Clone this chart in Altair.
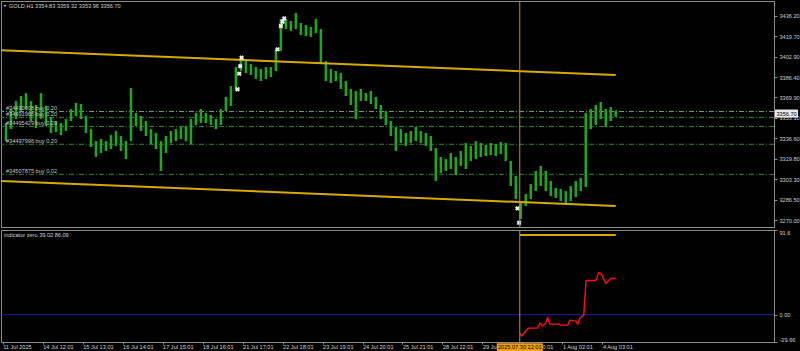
import altair as alt
import pandas as pd

# ---------------- data ----------------
# price bars: one entry per 3 H1 bars (high, low)
highs = [3349.0, 3360.4, 3366.9, 3371.0, 3373.4, 3366.9, 3363.7, 3373.4, 3362.9, 3353.9,
         3350.6, 3349.0, 3352.3, 3360.4, 3365.3, 3364.5, 3354.7, 3344.1, 3334.3, 3336.0,
         3334.3, 3339.2, 3342.5, 3338.4, 3334.3, 3377.5, 3357.2, 3354.7, 3350.6, 3344.1,
         3340.9, 3334.3, 3338.4, 3342.5, 3344.1, 3345.8, 3346.6, 3352.3, 3357.2, 3360.4,
         3357.2, 3355.5, 3352.3, 3360.4, 3370.2, 3379.2, 3394.6, 3401.2, 3399.5, 3397.1,
         3394.6, 3393.0, 3394.6, 3394.6, 3409.3, 3433.7, 3433.7, 3432.1, 3438.6, 3430.5,
         3428.8, 3427.2, 3433.7, 3425.6, 3399.5, 3393.0, 3391.4, 3389.7, 3383.2, 3376.7,
         3375.1, 3376.7, 3373.4, 3375.1, 3370.2, 3363.7, 3358.8, 3350.6, 3345.8, 3344.1,
         3340.9, 3342.5, 3345.8, 3342.5, 3340.9, 3338.4, 3328.6, 3321.3, 3319.7, 3324.6,
         3321.3, 3326.2, 3332.7, 3330.3, 3334.3, 3332.7, 3331.1, 3332.7, 3331.9, 3333.5,
         3332.7, 3318.1, 3305.8, 3285.5, 3291.2, 3299.3, 3309.9, 3314.0, 3309.9, 3301.8,
         3296.1, 3295.2, 3293.6, 3297.7, 3301.8, 3304.2, 3357.2, 3360.4, 3363.7, 3366.1,
         3360.4, 3362.0, 3359.3]
lows = [3334.3, 3344.1, 3352.3, 3358.8, 3360.4, 3350.6, 3344.9, 3352.3, 3346.6, 3340.9,
        3341.7, 3339.2, 3342.5, 3350.6, 3354.7, 3352.3, 3340.9, 3329.5, 3321.3, 3324.6,
        3326.2, 3327.8, 3330.3, 3326.2, 3319.7, 3334.3, 3346.6, 3342.5, 3338.4, 3331.9,
        3327.8, 3309.9, 3324.6, 3332.7, 3334.3, 3336.0, 3334.3, 3331.9, 3347.4, 3349.0,
        3349.0, 3347.4, 3344.1, 3347.4, 3358.8, 3362.9, 3375.1, 3391.4, 3389.7, 3388.1,
        3384.9, 3383.2, 3384.9, 3386.5, 3391.4, 3407.7, 3425.6, 3424.0, 3425.6, 3420.7,
        3419.9, 3419.1, 3422.3, 3397.9, 3383.2, 3381.6, 3383.2, 3376.7, 3371.0, 3363.7,
        3352.3, 3366.9, 3366.9, 3364.5, 3360.4, 3352.3, 3347.4, 3338.4, 3326.2, 3332.7,
        3330.3, 3332.7, 3334.3, 3332.7, 3330.3, 3326.2, 3301.8, 3308.3, 3309.9, 3311.5,
        3306.6, 3314.0, 3311.5, 3318.1, 3319.7, 3321.3, 3322.1, 3322.9, 3322.1, 3323.8,
        3318.1, 3297.7, 3287.1, 3270.8, 3281.4, 3287.1, 3293.6, 3297.7, 3293.6, 3289.5,
        3287.9, 3285.5, 3283.8, 3285.5, 3288.7, 3293.6, 3296.9, 3344.1, 3347.4, 3352.3,
        3345.8, 3350.6, 3354.0]
bar_idx = [3 + 3 * k for k in range(len(highs))]

# trade markers (bar, price)
mark_bars = [142.0, 143.0, 143.6, 144.4, 166.0, 168.0, 169.0, 170.0, 310.0, 311.0]
mark_prices = [3376.5, 3389.2, 3395.4, 3402.2, 3409.0, 3428.0, 3431.5, 3434.3, 3279.5, 3267.8]

# channel lines
chan_line = ["up", "up", "low", "low"]
chan_bar = [0, 369, 0, 369]
chan_price = [3408.3, 3388.1, 3301.8, 3281.4]

# order lines
order_labels = ["#34490008 buy 0.20", "#34491965 buy 0.20", "#34495429 buy 0.20",
                "#34497996 buy 0.20", "#34507875 buy 0.02"]
order_prices = [3358.4, 3353.6, 3346.2, 3331.7, 3307.2]
order_colors = ["#7a9c7a", "#2a8f2a", "#2a8f2a", "#2a8f2a", "#2a8f2a"]

bid_price = 3356.70
header = "GOLD,H1  3354.83 3359.32 3353.96 3356.70"
price_ticks = [3436.20, 3419.70, 3402.90, 3386.40, 3369.90, 3353.10, 3336.60,
               3319.80, 3303.30, 3286.50, 3270.00]

# indicator
ind_bars = [311.4, 312.6, 315, 316.8, 322.2, 323.4, 325.2, 327, 328.2, 329.4, 334.8, 336,
            340.2, 341.4, 345, 346.2, 347.4, 349.8, 351.2, 357, 358.8, 360.6, 363, 366, 369]
ind_vals = [-20.0, -23.2, -17.8, -14.6, -14.6, -9.2, -12.4, -9.2, -2.8, -10.3, -10.3, -11.4,
            -11.4, -6.0, -7.1, -10.3, -3.9, -0.6, 36.9, 36.9, 45.5, 43.3, 33.7, 39.1, 39.02]
ind_level = 86.09
ind_label = "indicator zero 39.02 86.09"
ind_ticks = [91.6, 0.0, -29.66]
ind_tick_labels = ["91.6", "0.00", "-29.66"]

time_ticks = [1, 25, 49, 73, 97, 121, 145, 169, 193, 217, 241, 265, 289, 313, 337, 361]
time_labels = ["11 Jul 2025", "14 Jul 12:01", "15 Jul 13:01", "16 Jul 14:01", "17 Jul 15:01",
               "18 Jul 16:01", "21 Jul 17:01", "22 Jul 18:01", "23 Jul 19:01", "24 Jul 20:01",
               "25 Jul 21:01", "28 Jul 22:01", "29 Jul 23:01", "31 Jul 00:01", "1 Aug 02:01",
               "4 Aug 03:01"]
cursor_bar = 311.4
cursor_label = "2025.07.30 22:01"

# ---------------- layout ----------------
W = 773
TOP_H = 226
BOT_H = 112
FONT = "Liberation Sans"
FS = 5.6
TXT = "#d0d0d0"
GRID = "#8c8c8c"

xs = alt.Scale(domain=[0, 464], nice=False, zero=False)
ys = alt.Scale(domain=[3264.3, 3448.4], nice=False, zero=False)
ys2 = alt.Scale(domain=[-29.66, 91.6], nice=False, zero=False)

top_axis = alt.Axis(orient="right", values=price_ticks, format=".2f", title=None, grid=False,
                    labelFontSize=FS, labelFont=FONT, labelColor=TXT, tickSize=3,
                    tickColor=GRID, domainColor=GRID, labelPadding=2)
ind_expr = "[" + ",".join("'%s'" % s for s in ind_tick_labels) + "][indexof([" + \
    ",".join(str(v) for v in ind_ticks) + "], datum.value)]"
bot_axis = alt.Axis(orient="right", values=ind_ticks, labelExpr=ind_expr, title=None, grid=False,
                    labelFontSize=FS, labelFont=FONT, labelColor=TXT, tickSize=3,
                    tickColor=GRID, domainColor=GRID, labelPadding=2, labelFlush=True)
time_expr = "[" + ",".join("'%s'" % s for s in time_labels) + "][indexof([" + \
    ",".join(str(v) for v in time_ticks) + "], datum.value)]"
x_axis = alt.Axis(values=time_ticks, labelExpr=time_expr, title=None, grid=False,
                  labelFontSize=FS, labelFont=FONT, labelColor=TXT, labelAlign="left",
                  labelPadding=0, tickSize=2, tickColor=GRID, domainColor=GRID,
                  labelOverlap=False, labelFlush=False, labelBound=False)


def XT(f):
    return alt.X(f, scale=xs, axis=None)


def YT(f):
    return alt.Y(f, scale=ys, axis=top_axis)


def XB(f):
    return alt.X(f, scale=xs, axis=x_axis)


def YB(f):
    return alt.Y(f, scale=ys2, axis=bot_axis)


bars_df = pd.DataFrame({"bar": bar_idx, "high": highs, "low": lows})
orders_df = pd.DataFrame({"label": order_labels, "price": order_prices, "col": order_colors})
chan_df = pd.DataFrame({"line": chan_line, "bar": chan_bar, "price": chan_price})
marks_df = pd.DataFrame({"bar": mark_bars, "price": mark_prices})
cursor_df = pd.DataFrame({"bar": [cursor_bar]})
bid_df = pd.DataFrame({"price": [bid_price], "p1": [bid_price + 3.3], "p2": [bid_price - 3.3],
                       "t": ["%.2f" % bid_price]})
head_df = pd.DataFrame({"t": [header]})

order_lines = alt.Chart(orders_df).mark_rule(strokeWidth=1, strokeDash=[5, 2, 1, 2],
                                             clip=True).encode(
    y=YT("price:Q"), color=alt.Color("col:N", scale=None))
order_text = alt.Chart(orders_df).mark_text(align="left", baseline="middle", dy=-3.5,
                                            fontSize=FS, font=FONT, color="#c4c4c4").encode(
    x=alt.value(5), y=YT("price:Q"), text="label:N")
price_bars = alt.Chart(bars_df).mark_rule(color="#1ea81e", strokeWidth=2.5).encode(
    x=XT("bar:Q"), y=YT("high:Q"), y2="low:Q")
channel = alt.Chart(chan_df).mark_line(color="#d6ab00", strokeWidth=2, strokeJoin="round",
                                       clip=True).encode(
    x=XT("bar:Q"), y=YT("price:Q"), detail="line:N")
markers = alt.Chart(marks_df).mark_point(shape="cross", angle=45, filled=True, size=24,
                                         color="#eeeeee", opacity=1).encode(
    x=XT("bar:Q"), y=YT("price:Q"))
cursor_top = alt.Chart(cursor_df).mark_rule(color="#c08a40", strokeWidth=1, clip=True).encode(
    x=XT("bar:Q"))
bid_box = alt.Chart(bid_df).mark_rect(color="#e8e8e8").encode(
    x=alt.value(774), x2=alt.value(797), y=YT("p1:Q"), y2="p2:Q")
bid_text = alt.Chart(bid_df).mark_text(align="left", baseline="middle", fontSize=FS, font=FONT,
                                       color="#000000").encode(
    x=alt.value(775.5), y=YT("price:Q"), text="t:N")
head_icon = alt.Chart(head_df).mark_point(shape="triangle-down", filled=True, size=6,
                                          color="#e0e0e0", opacity=1).encode(
    x=alt.value(4), y=alt.value(5))
head_text = alt.Chart(head_df).mark_text(align="left", baseline="middle", fontSize=FS, font=FONT,
                                         color=TXT).encode(
    x=alt.value(8), y=alt.value(5), text="t:N")

top = alt.layer(order_lines, price_bars, channel, order_text, markers, cursor_top,
                bid_box, bid_text, head_icon, head_text).properties(width=W, height=TOP_H)

ind_df = pd.DataFrame({"bar": ind_bars, "v": ind_vals})
lvl_df = pd.DataFrame({"bar": [cursor_bar, 369], "v": [ind_level, ind_level]})
zero_df = pd.DataFrame({"v": [0.0]})
ilab_df = pd.DataFrame({"t": [ind_label]})
cbox_df = pd.DataFrame({"b1": [cursor_bar - 13.8], "b2": [cursor_bar + 13.8], "v1": [-31.0],
                        "v2": [-40.0], "vm": [-35.6], "bar": [cursor_bar], "t": [cursor_label]})

zero_line = alt.Chart(zero_df).mark_rule(color="#1c1c96", strokeWidth=1, clip=True).encode(
    y=YB("v:Q"))
ind_line = alt.Chart(ind_df).mark_line(color="#ff1010", strokeWidth=1.4, strokeJoin="round").encode(
    x=XB("bar:Q"), y=YB("v:Q"))
lvl_line = alt.Chart(lvl_df).mark_line(color="#d6ab00", strokeWidth=2, strokeJoin="round").encode(
    x=XB("bar:Q"), y=YB("v:Q"))
cursor_bot = alt.Chart(cursor_df).mark_rule(color="#c08a40", strokeWidth=1, clip=True).encode(
    x=XB("bar:Q"))
ind_text = alt.Chart(ilab_df).mark_text(align="left", baseline="middle", fontSize=FS, font=FONT,
                                        color=TXT).encode(
    x=alt.value(3), y=alt.value(5), text="t:N")
cbox = alt.Chart(cbox_df).mark_rect(color="#f0a000").encode(
    x=XB("b1:Q"), x2="b2:Q", y=YB("v1:Q"), y2="v2:Q")
ctext = alt.Chart(cbox_df).mark_text(align="center", baseline="middle", fontSize=FS, font=FONT,
                                     color="#000000").encode(
    x=XB("bar:Q"), y=YB("vm:Q"), text="t:N")

bottom = alt.layer(zero_line, ind_line, lvl_line, cursor_bot, ind_text, cbox, ctext).properties(
    width=W, height=BOT_H)

chart = alt.vconcat(top, bottom, spacing=1, padding=0).configure(
    background="#000000"
).configure_view(stroke=GRID, strokeWidth=1)

chart.save("out.html", embed_options={"renderer": "svg", "actions": False})
